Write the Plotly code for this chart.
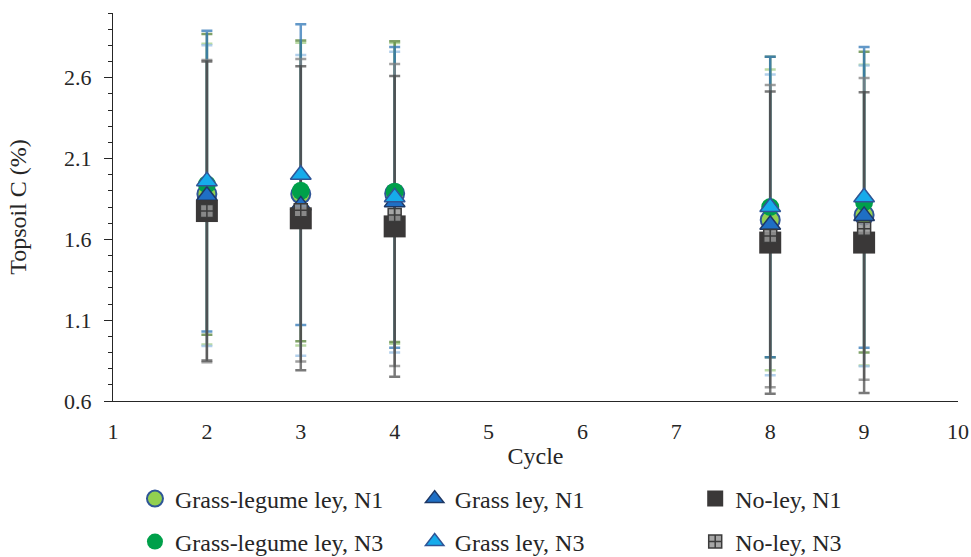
import plotly.graph_objects as go

cycles = [2, 3, 4, 8, 9]

gl_n1 = [1.88, 1.88, 1.884, 1.72, 1.75]
gl_n1_err = [0.93, 0.936, 0.93, 0.93, 0.93]
gl_n3 = [1.94, 1.90, 1.895, 1.80, 1.83]
gl_n3_err = [0.93, 0.93, 0.93, 0.93, 0.93]
gr_n1 = [1.87, 1.81, 1.83, 1.69, 1.745]
gr_n1_err = [0.93, 0.93, 0.93, 0.93, 0.93]
gr_n3 = [1.96, 2.00, 1.86, 1.80, 1.86]
gr_n3_err = [0.93, 0.93, 0.93, 0.93, 0.93]
nl_n1 = [1.775, 1.73, 1.68, 1.58, 1.58]
nl_n1_err = [0.925, 0.94, 0.93, 0.935, 0.93]
nl_n3 = [1.775, 1.78, 1.75, 1.62, 1.665]
nl_n3_err = [0.935, 0.936, 0.934, 0.935, 0.933]

error_series = [
    (gl_n1, gl_n1_err, "rgba(169,209,142,0.8)"),
    (gr_n1, gr_n1_err, "rgba(157,195,230,0.8)"),
    (gl_n3, gl_n3_err, "rgba(84,130,53,0.75)"),
    (gr_n3, gr_n3_err, "rgba(46,117,182,0.75)"),
    (nl_n3, nl_n3_err, "rgba(127,127,127,0.75)"),
    (nl_n1, nl_n1_err, "rgba(64,64,64,0.7)"),
]

marker_series = [
    ("Grass-legume ley, N1", gl_n1, "circle", 19, "#92D050", "#2F5597", 2, 1),
    ("Grass-legume ley, N3", gl_n3, "circle", 18, "#00A04A", "#00A04A", 0, 4),
    ("Grass ley, N1", gr_n1, "triangle-up", 18, "#1F6FC5", "#1F3864", 1.5, 2),
    ("Grass ley, N3", gr_n3, "triangle-up", 18, "#16ABEB", "#2F5597", 1.5, 5),
    ("No-ley, N1", nl_n1, "square", 22, "#3A3838", "#3A3838", 0, 3),
    ("No-ley, N3", nl_n3, "square-cross", 13, "rgba(150,150,150,0.85)", "#3B3B3B", 1.5, 6),
]

fig = go.Figure()

for y, err, ecol in error_series:
    fig.add_trace(go.Scatter(
        x=cycles, y=y, mode="markers",
        marker=dict(size=1, opacity=0),
        error_y=dict(type="data", array=err, visible=True, color=ecol, thickness=2.5, width=5.5),
        showlegend=False, hoverinfo="skip",
    ))

legend_pos = {
    1: (0.026, -0.2526), 2: (0.357, -0.2526), 3: (0.689, -0.2526),
    4: (0.026, -0.3634), 5: (0.357, -0.3634), 6: (0.689, -0.3634),
}

for name, y, sym, size, fill, lcol, lw, li in marker_series:
    fig.add_trace(go.Scatter(
        x=cycles, y=y, mode="markers", name=name,
        marker=dict(symbol=sym, size=size, color=fill, line=dict(color=lcol, width=lw)),
        legend="legend" if li == 1 else f"legend{li}",
    ))

font_family = "Liberation Serif, Times New Roman, serif"
legends = {}
for li, (lx, ly) in legend_pos.items():
    key = "legend" if li == 1 else f"legend{li}"
    legends[key] = dict(
        x=lx, y=ly, xanchor="left", yanchor="middle",
        font=dict(family=font_family, size=24, color="#262626"),
        bgcolor="rgba(0,0,0,0)", borderwidth=0,
    )

fig.update_layout(
    width=971, height=557,
    margin=dict(l=113, r=13, t=13, b=156, autoexpand=False),
    paper_bgcolor="white", plot_bgcolor="white",
    font=dict(family=font_family, size=22, color="#262626"),
    xaxis=dict(
        range=[1, 10], tickvals=list(range(1, 11)), ticks="",
        ticklabelstandoff=10,
        showline=True, linecolor="#262626", linewidth=1.2,
        showgrid=False, zeroline=False, automargin=False,
        title=dict(text="Cycle", font=dict(size=24), standoff=4),
        tickfont=dict(size=22),
    ),
    yaxis=dict(
        range=[0.6, 3.0], tick0=0.6, dtick=0.5, tickformat=".1f",
        ticks="outside", ticklen=8, tickcolor="#262626", tickwidth=1,
        ticklabelstandoff=8,
        minor=dict(dtick=0.1, tick0=0.6, ticks="outside", ticklen=4, tickcolor="#262626", showgrid=False),
        showline=True, linecolor="#262626", linewidth=1.2,
        showgrid=False, zeroline=False, automargin=False,
        title=dict(text="Topsoil C (%)", font=dict(size=24), standoff=30),
        tickfont=dict(size=22),
    ),
    **legends,
)

fig.write_html(
    "out.html",
    config={"displayModeBar": False},
    post_script="document.body.style.margin='0';document.body.style.overflow='hidden';",
)
